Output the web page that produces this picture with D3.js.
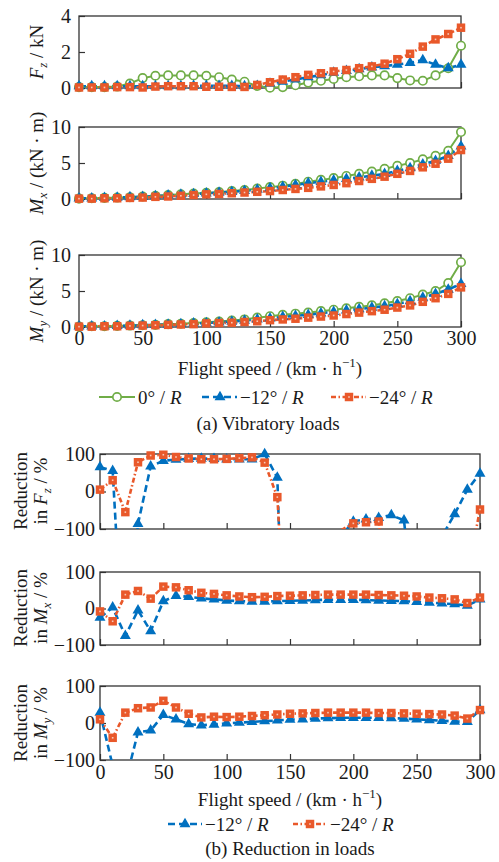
<!DOCTYPE html>
<html><head><meta charset="utf-8">
<script src="https://cdn.jsdelivr.net/npm/d3@7"></script>
<style>
body{margin:0;background:#fff}
svg text{font-family:"Liberation Serif","Times New Roman",Times,Tinos,"Nimbus Roman","Nimbus Roman No9 L",FreeSerif,"Noto Serif","DejaVu Serif",serif !important;fill:#1a1a1a}
</style></head>
<body><svg id="c" width="499" height="862"></svg>
<script>
// ---------- data ----------
const speed = [0,10,20,30,40,50,60,70,80,90,100,110,120,130,140,150,160,170,180,190,200,210,220,230,240,250,260,270,280,290,300];
const xTicks = [0,50,100,150,200,250,300];

// (a) vibratory loads
const fz0  = [0.05,0.05,0.05,0.08,0.25,0.55,0.68,0.7,0.7,0.7,0.68,0.6,0.47,0.35,0.12,0.02,0.05,0.15,0.3,0.4,0.5,0.6,0.65,0.7,0.7,0.55,0.42,0.4,0.7,1.1,2.35];
const fz12 = [0.1,0.1,0.1,0.1,0.1,0.1,0.1,0.1,0.1,0.12,0.12,0.12,0.12,0.1,0.12,0.25,0.35,0.48,0.6,0.72,0.85,0.95,1.05,1.15,1.22,1.3,1.4,1.55,1.3,1.1,1.3];
const fz24 = [0.03,0.03,0.03,0.05,0.05,0.03,0.08,0.1,0.1,0.1,0.07,0.07,0.06,0.06,0.17,0.32,0.47,0.6,0.73,0.82,0.92,1.0,1.1,1.2,1.35,1.6,1.9,2.3,2.7,3.0,3.35];
const mx0  = [0.05,0.1,0.15,0.2,0.25,0.35,0.45,0.55,0.65,0.75,0.85,0.95,1.1,1.25,1.45,1.65,1.85,2.1,2.4,2.65,2.9,3.2,3.5,3.8,4.2,4.6,5.0,5.5,6.0,6.7,9.3];
const mx12 = [0.1,0.1,0.15,0.2,0.25,0.3,0.4,0.5,0.6,0.7,0.8,0.9,1.0,1.15,1.3,1.5,1.7,1.95,2.2,2.4,2.6,2.8,3.0,3.25,3.5,3.9,4.3,4.8,5.3,6.0,7.3];
const mx24 = [0.05,0.05,0.1,0.1,0.15,0.2,0.3,0.35,0.45,0.55,0.65,0.7,0.8,0.9,1.0,1.1,1.25,1.4,1.55,1.75,1.95,2.2,2.5,2.8,3.1,3.5,3.9,4.4,4.9,5.6,6.8];
const my0  = [0.05,0.1,0.1,0.15,0.2,0.25,0.3,0.4,0.45,0.55,0.65,0.75,0.9,1.05,1.3,1.5,1.7,1.85,2.0,2.2,2.4,2.6,2.8,3.0,3.3,3.6,4.0,4.5,5.0,6.1,9.0];
const my12 = [0.1,0.1,0.1,0.15,0.2,0.25,0.3,0.35,0.4,0.5,0.55,0.65,0.75,0.9,1.05,1.2,1.4,1.55,1.7,1.9,2.1,2.3,2.5,2.7,2.9,3.2,3.6,4.1,4.6,5.2,6.0];
const my24 = [0.05,0.05,0.1,0.1,0.15,0.2,0.25,0.3,0.35,0.4,0.5,0.55,0.6,0.7,0.8,0.95,1.05,1.15,1.3,1.45,1.6,1.8,2.0,2.2,2.4,2.7,3.0,3.5,4.0,4.6,5.5];

// (b) reduction in loads (%)
const rfz12 = [65,55,-540,-86,67,82,85,87,88,87,86,86,86,100,37,-1000,-1000,-1000,-1000,-120,-80,-74,-70,-63,-77,-400,-400,-120,-60,5,48];
const rfz24 = [5,30,-55,78,96,98,92,88,86,86,87,89,91,77,-15,-600,-1000,-1000,-1000,-104,-85,-82,-80,-400,-400,-400,-400,-400,-400,-220,-48];
const rmx12 = [-25,3,-75,-5,-62,20,35,32,28,25,22,20,19,19,20,21,22,23,24,24,24,23,22,21,20,18,16,14,12,8,25];
const rmx24 = [-8,-35,38,48,27,60,58,50,43,40,36,33,31,32,34,35,36,37,38,38,38,38,37,36,35,33,30,28,25,15,30];
const rmy12 = [28,-115,-160,-25,-20,22,10,-3,-6,-4,-1,1,3,5,7,9,10,12,13,14,14,14,14,13,12,10,8,6,4,3,35];
const rmy24 = [10,-40,28,40,42,60,42,25,15,17,16,17,19,21,23,25,26,27,28,28,28,28,27,27,26,25,24,23,20,12,35];

// ---------- styles ----------
const GREEN = "#70AD47", BLUE = "#0070C0", ORANGE = "#E9582A";
const sty = {
  g:{color:GREEN, dash:null, w:2, marker:"circle"},
  b:{color:BLUE, dash:"7,4", w:2.6, marker:"triangle"},
  o:{color:ORANGE, dash:"5,2.5,1.5,2.5", w:2.6, marker:"square"}
};

const svg = d3.select("#c");
const FS = 19;
const FONT = "Liberation Serif, Times New Roman, Times, Tinos, Nimbus Roman, FreeSerif, Noto Serif, DejaVu Serif, serif";

function drawMarker(sel, type, color, cx, cy){
  if(type==="circle"){
    sel.append("circle").attr("cx",cx).attr("cy",cy).attr("r",4.2)
      .attr("fill","#fff").attr("stroke",color).attr("stroke-width",1.7);
  } else if(type==="triangle"){
    sel.append("path").attr("d",d3.symbol(d3.symbolTriangle,52)())
      .attr("transform",`translate(${cx},${cy})`).attr("fill",color);
  } else {
    sel.append("path").attr("d",d3.symbol(d3.symbolSquare,72)())
      .attr("transform",`translate(${cx},${cy})`).attr("fill",color);
    sel.append("rect").attr("x",cx-0.8).attr("y",cy-0.8).attr("width",1.6).attr("height",1.6).attr("fill","#f6c9b8");
  }
}

let clipN = 0;
function panel(cfg){
  const x = d3.scaleLinear().domain([0,300]).range([cfg.l,cfg.r]);
  const y = d3.scaleLinear().domain(cfg.dom).range([cfg.b,cfg.t]);
  const id = "clip"+(clipN++);
  svg.append("clipPath").attr("id",id).append("rect")
    .attr("x",cfg.l).attr("y",cfg.t).attr("width",cfg.r-cfg.l).attr("height",cfg.b-cfg.t);
  const g = svg.append("g");

  const xa = d3.axisBottom(x).tickValues(xTicks).tickSize(-6).tickPadding(cfg.xpad)
    .tickFormat(cfg.xlabels ? d3.format("d") : "");
  const gx = g.append("g").attr("transform",`translate(0,${cfg.b})`).call(xa);
  const ya = d3.axisLeft(y).tickValues(cfg.yt).tickSize(-6).tickPadding(cfg.ypad).tickFormat(d3.format("~g"));
  const gy = g.append("g").attr("transform",`translate(${cfg.l},0)`).call(ya);
  [gx,gy].forEach(a=>{
    a.attr("font-family",FONT).attr("font-size",20);
    a.select(".domain").remove();
    a.selectAll("line").attr("stroke","#333").attr("stroke-width",1.2);
    a.selectAll("text").attr("fill","#1a1a1a");
  });
  g.append("rect").attr("x",cfg.l).attr("y",cfg.t).attr("width",cfg.r-cfg.l).attr("height",cfg.b-cfg.t)
    .attr("fill","none").attr("stroke","#333").attr("stroke-width",1.3);

  const line = d3.line().x((d,i)=>x(speed[i])).y(d=>y(d));
  cfg.series.forEach(s=>{
    const st = sty[s.k];
    g.append("path").datum(s.v).attr("d",line).attr("clip-path",`url(#${id})`)
      .attr("fill","none").attr("stroke",st.color).attr("stroke-width",st.w)
      .attr("stroke-dasharray",st.dash);
  });
  cfg.series.forEach(s=>{
    const st = sty[s.k];
    const mg = g.append("g");
    s.v.forEach((v,i)=>{
      if(v >= cfg.dom[0]-0.01 && v <= cfg.dom[1]+0.01) drawMarker(mg, st.marker, st.color, x(speed[i]), y(v));
    });
  });
}

function txt(){ return svg.append("text").attr("font-family",FONT).attr("font-size",FS); }

function ylabel(xb, cy, parts){
  const t = txt().attr("transform",`translate(${xb},${cy}) rotate(-90)`).attr("text-anchor","middle");
  parts.forEach(p=>{
    const ts = t.append("tspan").text(p.t);
    if(p.i) ts.attr("font-style","italic");
    if(p.sub){ ts.attr("font-size",13).attr("dy",4); }
    if(p.after) ts.attr("dy",-4);
  });
}

function xlabel(cx, yb){
  const t = txt().attr("x",cx).attr("y",yb).attr("text-anchor","middle");
  t.append("tspan").text("Flight speed / (km \u00b7 h");
  t.append("tspan").text("\u22121").attr("font-size",13).attr("dy",-8);
  t.append("tspan").text(")").attr("dy",8);
}

function legendItem(k, x0, x1, mx, ty, label){
  const st = sty[k];
  const g = svg.append("g");
  g.append("line").attr("x1",x0).attr("x2",x1).attr("y1",ty).attr("y2",ty)
    .attr("stroke",st.color).attr("stroke-width",st.w).attr("stroke-dasharray",st.dash);
  drawMarker(g, st.marker, st.color, mx, ty);
  const t = txt().attr("x",x1+3).attr("y",ty+6.5);
  t.append("tspan").text(label+" / ");
  t.append("tspan").text("R").attr("font-style","italic");
}

// ---------- (a) ----------
const A = {l:79, r:461, xpad:4, ypad:8};
panel({...A, t:16, b:88, dom:[0,4], yt:[0,2,4], xlabels:false,
  series:[{k:"g",v:fz0},{k:"b",v:fz12},{k:"o",v:fz24}]});
panel({...A, t:127, b:199, dom:[0,10], yt:[0,5,10], xlabels:false,
  series:[{k:"g",v:mx0},{k:"b",v:mx12},{k:"o",v:mx24}]});
panel({...A, t:255, b:327, dom:[0,10], yt:[0,5,10], xlabels:true,
  series:[{k:"g",v:my0},{k:"b",v:my12},{k:"o",v:my24}]});

ylabel(43, 52, [{t:"F",i:true},{t:"z",i:true,sub:true},{t:" / kN",after:true}]);
ylabel(43, 163, [{t:"M",i:true},{t:"x",i:true,sub:true},{t:" / (kN \u00b7 m)",after:true}]);
ylabel(43, 291, [{t:"M",i:true},{t:"y",i:true,sub:true},{t:" / (kN \u00b7 m)",after:true}]);
xlabel(270, 375);
legendItem("g", 99, 135, 117, 397, "0\u00b0");
legendItem("b", 202, 237, 220, 397, "\u221212\u00b0");
legendItem("o", 331, 366, 349, 397, "\u221224\u00b0");
txt().attr("x",268).attr("y",430).attr("text-anchor","middle").text("(a) Vibratory loads");

// ---------- (b) ----------
const B = {l:100, r:480, xpad:5, ypad:5};
panel({...B, t:454, b:529, dom:[-100,100], yt:[-100,0,100], xlabels:false,
  series:[{k:"b",v:rfz12},{k:"o",v:rfz24}]});
panel({...B, t:572, b:645, dom:[-100,100], yt:[-100,0,100], xlabels:false,
  series:[{k:"b",v:rmx12},{k:"o",v:rmx24}]});
panel({...B, t:686, b:760, dom:[-100,100], yt:[-100,0,100], xlabels:true,
  series:[{k:"b",v:rmy12},{k:"o",v:rmy24}]});

function redLabel(cy, sym, sub){
  txt().attr("transform",`translate(27,${cy}) rotate(-90)`).attr("text-anchor","middle").text("Reduction");
  ylabel(47, cy, [{t:"in "},{t:sym,i:true},{t:sub,i:true,sub:true},{t:" / %",after:true}]);
}
redLabel(491, "F", "z");
redLabel(608, "M", "x");
redLabel(723, "M", "y");
xlabel(290, 806);
legendItem("b", 168, 202, 185, 824, "\u221212\u00b0");
legendItem("o", 293, 327, 310, 824, "\u221224\u00b0");
txt().attr("x",290).attr("y",855).attr("text-anchor","middle").text("(b) Reduction in loads");
</script></body></html>
